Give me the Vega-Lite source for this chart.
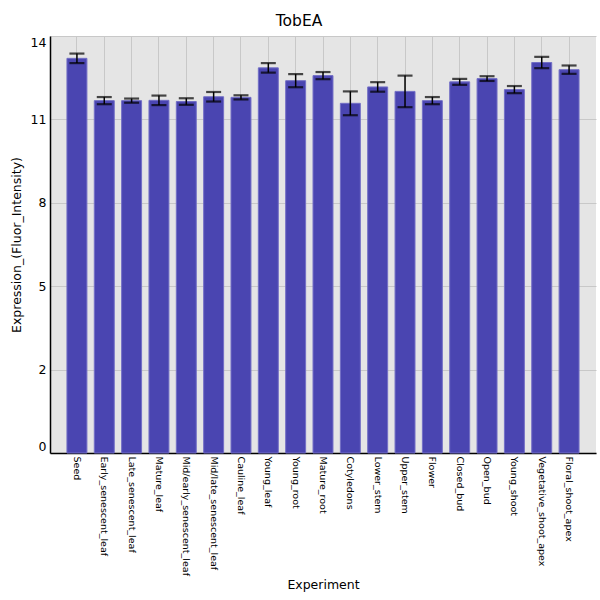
{
  "$schema": "https://vega.github.io/schema/vega-lite/v6.json",
  "autosize": "none",
  "padding": {"left": 50, "top": 36, "right": 4, "bottom": 147},
  "width": 546,
  "height": 417,
  "background": "white",
  "title": {
    "text": "TobEA",
    "fontSize": 15.5,
    "fontWeight": "normal",
    "font": "DejaVu Sans",
    "color": "black",
    "dx": -24,
    "offset": 7
  },
  "data": {
    "values": [
      {"Experiment": "Seed", "mean": 13.25, "err": 0.16},
      {"Experiment": "Early_senescent_leaf", "mean": 11.83, "err": 0.12},
      {"Experiment": "Late_senescent_leaf", "mean": 11.83, "err": 0.07},
      {"Experiment": "Mature_leaf", "mean": 11.84, "err": 0.16},
      {"Experiment": "Mid/early_senescent_leaf", "mean": 11.8, "err": 0.11},
      {"Experiment": "Mid/late_senescent_leaf", "mean": 11.96, "err": 0.16},
      {"Experiment": "Cauline_leaf", "mean": 11.94, "err": 0.07},
      {"Experiment": "Young_leaf", "mean": 12.93, "err": 0.16},
      {"Experiment": "Young_root", "mean": 12.5, "err": 0.22},
      {"Experiment": "Mature_root", "mean": 12.67, "err": 0.12},
      {"Experiment": "Cotyledons", "mean": 11.74, "err": 0.4},
      {"Experiment": "Lower_stem", "mean": 12.29, "err": 0.16},
      {"Experiment": "Upper_stem", "mean": 12.14, "err": 0.53},
      {"Experiment": "Flower", "mean": 11.83, "err": 0.12},
      {"Experiment": "Closed_bud", "mean": 12.46, "err": 0.1},
      {"Experiment": "Open_bud", "mean": 12.57, "err": 0.08},
      {"Experiment": "Young_shoot", "mean": 12.2, "err": 0.12},
      {"Experiment": "Vegetative_shoot_apex", "mean": 13.11, "err": 0.19},
      {"Experiment": "Floral_shoot_apex", "mean": 12.87, "err": 0.14}
    ]
  },
  "encoding": {
    "x": {
      "field": "Experiment",
      "type": "nominal",
      "sort": null,
      "scale": {"paddingInner": 0.27, "paddingOuter": 0.62},
      "axis": {
        "title": "Experiment",
        "labelAngle": 90,
        "labelAlign": "left",
        "labelBaseline": "middle",
        "labelFontSize": 9.5,
        "labelPadding": 3,
        "ticks": false,
        "grid": true,
        "bandPosition": 0.5,
        "titlePadding": 3
      }
    },
    "y": {
      "field": "mean",
      "type": "quantitative",
      "scale": {"domain": [0, 14], "nice": false, "zero": true},
      "axis": {
        "title": "Expression_(Fluor_Intensity)",
        "values": [0, 2.8, 5.6, 8.4, 11.2, 14],
        "labelExpr": "floor(datum.value)",
        "labelFlush": true,
        "labelFontSize": 12.5,
        "labelPadding": 4,
        "ticks": false,
        "grid": true,
        "titlePadding": 7
      }
    }
  },
  "layer": [
    {
      "mark": {"type": "bar", "color": "#4a45b1", "stroke": "#736fc6", "strokeWidth": 1}
    },
    {
      "mark": {
        "type": "errorbar",
        "ticks": {"size": 15, "thickness": 2.2, "color": "black"},
        "rule": {"strokeWidth": 1.5, "color": "black"}
      },
      "encoding": {
        "yError": {"field": "err"}
      }
    }
  ],
  "config": {
    "font": "DejaVu Sans",
    "view": {"fill": "#e5e5e5", "stroke": null},
    "axis": {
      "domainColor": "black",
      "domainWidth": 1.5,
      "gridColor": "#c8c8c8",
      "gridWidth": 1,
      "labelColor": "black",
      "titleColor": "black",
      "titleFontWeight": "normal",
      "titleFontSize": 12.5,
      "labelFont": "DejaVu Sans",
      "titleFont": "DejaVu Sans"
    }
  }
}
